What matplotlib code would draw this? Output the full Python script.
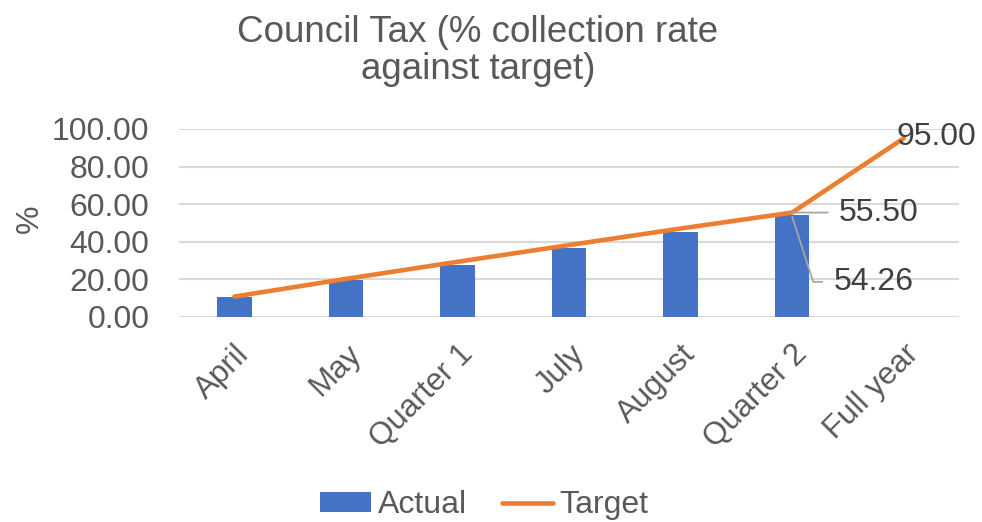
import matplotlib.pyplot as plt

# data
months = ['April', 'May', 'Quarter 1', 'July', 'August', 'Quarter 2', 'Full year']
actual = [10.6, 19.7, 27.7, 36.9, 45.2, 54.26]
target = [10.8, 20.2, 29.3, 38.2, 47.0, 55.5, 95.0]

plt.rcParams['font.family'] = ['Liberation Sans', 'DejaVu Sans']
grey = '#595959'
dark = '#404040'

fig = plt.figure(figsize=(9.82, 5.22), dpi=100)
ax = fig.add_axes([0.182, 0.393, 0.795, 0.36])

x_act = list(range(len(actual)))
x_tgt = list(range(len(target)))
bars = ax.bar(x_act, actual, width=0.31, color='#4472C4', label='Actual', zorder=2)
line, = ax.plot(x_tgt, target, color='#ED7D31', linewidth=3.3, solid_capstyle='round',
                label='Target', zorder=3)

ax.set_xlim(-0.5, len(months) - 0.5)
ax.set_ylim(0, 100)
ax.set_yticks([0, 20, 40, 60, 80, 100])
ax.set_yticklabels([f'{v:.2f}' for v in [0, 20, 40, 60, 80, 100]])
ax.set_xticks(x_tgt)
ax.set_xticklabels(months, rotation=45, ha='right', rotation_mode='anchor')
ax.tick_params(axis='y', length=0, labelsize=23, colors=grey, pad=21)
ax.tick_params(axis='x', length=0, labelsize=22.5, colors=grey, pad=16)
ax.grid(axis='y', color='#d9d9d9', linewidth=1.5, zorder=0)
ax.set_axisbelow(True)
for s in ax.spines.values():
    s.set_visible(False)

ax.set_ylabel('%', fontsize=23, color=grey)
ax.yaxis.set_label_coords(-0.172, 0.52)

fig.text(478 / 982, 1 - 51 / 522, 'Council Tax (% collection rate\nagainst target)',
         fontsize=26.5, color=grey, ha='center', va='center', linespacing=1.05)

# data labels
ax.text(len(target) - 1 - 0.06, target[-1] + 0.5, f'{target[-1]:.2f}', fontsize=23,
        color=dark, va='center', ha='left', zorder=4)
ax.annotate(f'{target[5]:.2f}', xy=(5, target[5]), xytext=(5.42, target[5]),
            fontsize=23, color=dark, va='center', ha='left',
            arrowprops=dict(arrowstyle='-', color='#a6a6a6', lw=1.3,
                            relpos=(0, 0.5), shrinkA=6, shrinkB=0))
ax.annotate(f'{actual[5]:.2f}', xy=(5, actual[5] - 1), xytext=(5.37, 18.6),
            fontsize=23, color=dark, va='center', ha='left',
            arrowprops=dict(arrowstyle='-', color='#a6a6a6', lw=1.3,
                            relpos=(0, 0.5), shrinkA=6, shrinkB=0,
                            connectionstyle='angle,angleA=0,angleB=-72,rad=0'))

fig.legend([bars, line], ['Actual', 'Target'], loc='lower center',
           bbox_to_anchor=(0.493, -0.052), ncol=2, frameon=False, fontsize=23,
           labelcolor=grey, handlelength=1.6, handleheight=0.55,
           handletextpad=0.2, columnspacing=1.1)

plt.savefig('out.png', dpi=100)
